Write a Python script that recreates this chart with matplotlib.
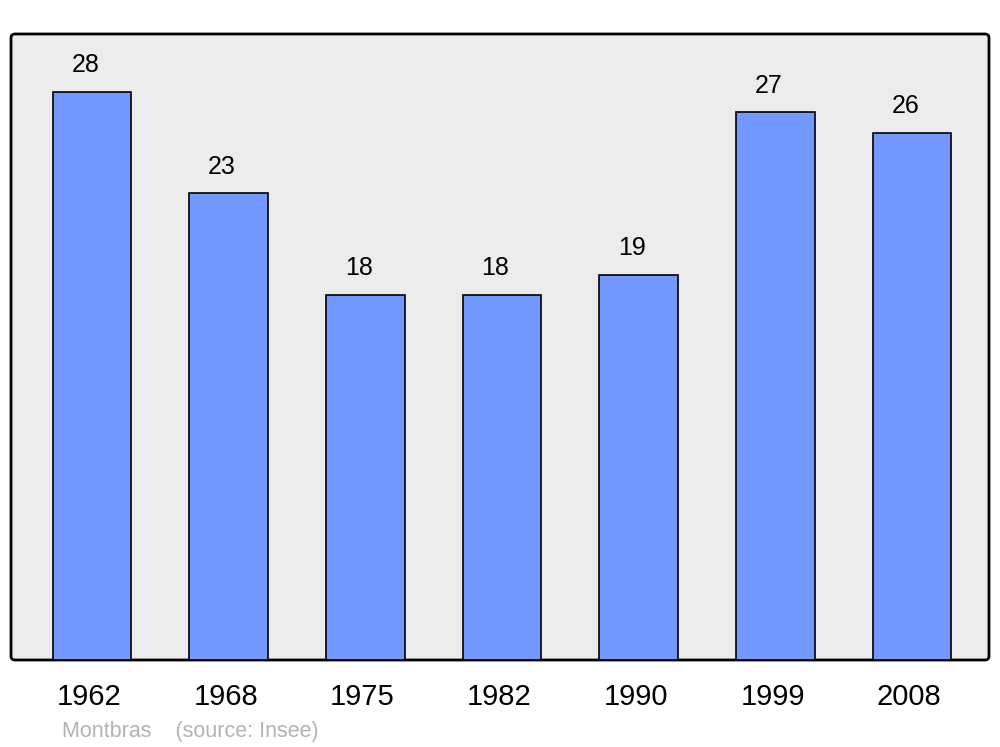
import matplotlib.pyplot as plt
from matplotlib.patches import FancyBboxPatch
from matplotlib.transforms import IdentityTransform, ScaledTranslation

plt.rcParams['font.family'] = ['Liberation Sans', 'DejaVu Sans']

years = ['1962', '1968', '1975', '1982', '1990', '1999', '2008']
population = [28, 23, 18, 18, 19, 27, 26]

fig = plt.figure(figsize=(10, 7.47), dpi=100)
ax = fig.add_axes([0.011, 0.1165, 0.978, 0.838])
ax.patch.set_visible(False)
for s in ax.spines.values():
    s.set_visible(False)

# rounded frame in pixel coordinates, drawn behind the bars
frame = FancyBboxPatch((11, 87), 978, 626, boxstyle="round,pad=0,rounding_size=4",
                       transform=IdentityTransform(), facecolor='#ececec',
                       edgecolor='black', linewidth=2, zorder=0, clip_on=False)
ax.add_artist(frame)

x = list(range(len(years)))
bars = ax.bar(x, population, width=0.575, color='#7399ff', edgecolor='black',
              linewidth=1.2, zorder=2)
for xi, v in zip(x, population):
    ax.annotate(str(v), (xi, v), xytext=(-4.7, 10.5), textcoords='offset points',
                ha='center', va='bottom', fontsize=18, zorder=3)

ax.set_xlim(-0.593, 6.563)
ax.set_ylim(0, 30.86)
ax.set_xticks(x)
ax.set_xticklabels(years, fontsize=21)
ax.tick_params(axis='x', length=0, pad=16.5)
ax.set_yticks([])
shift = ScaledTranslation(-2 / 72, 0, fig.dpi_scale_trans)
for lab in ax.get_xticklabels():
    lab.set_transform(lab.get_transform() + shift)

fig.text(0.062, 0.021, 'Montbras    (source: Insee)', color='#b3b3b3',
         fontsize=15.5, ha='left', va='center')

fig.savefig('out.png', dpi=100)
